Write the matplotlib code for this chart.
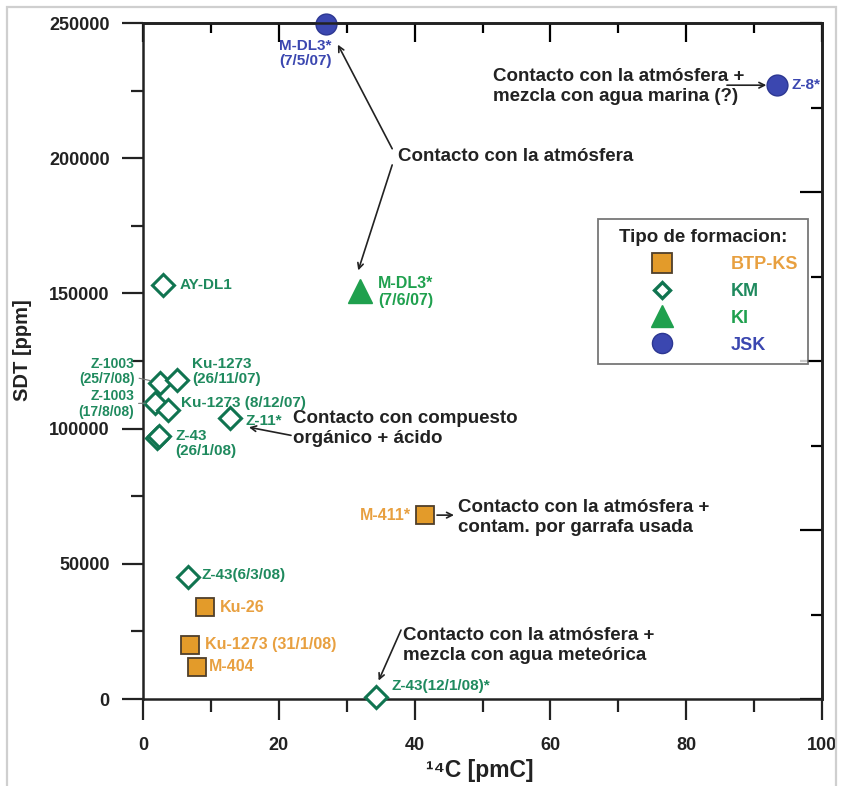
import matplotlib
matplotlib.use("Agg")
import matplotlib.pyplot as plt
from matplotlib.lines import Line2D
from matplotlib.patches import Rectangle
from matplotlib.ticker import MultipleLocator

plt.rcParams['font.family'] = ['Liberation Sans', 'DejaVu Sans']
plt.rcParams['font.weight'] = 'bold'

# --- data: 14C activity (pmC) vs total dissolved solids (ppm) ---
btp_names = ["M-411*", "Ku-26", "Ku-1273 (31/1/08)", "M-404"]
btp_c14 = [41.5, 9.1, 6.9, 7.9]
btp_sdt = [68000, 34000, 20000, 12000]

km_names = ["AY-DL1", "Z-1003\n(25/7/08)", "Ku-1273\n(26/11/07)", "Z-1003\n(17/8/08)",
            "Ku-1273 (8/12/07)", "Z-43\n(26/1/08)", "", "Z-11*", "Z-43(6/3/08)",
            "Z-43(12/1/08)*"]
km_c14 = [2.9, 2.5, 5.0, 1.8, 3.7, 2.1, 2.4, 12.8, 6.6, 34.3]
km_sdt = [153000, 117000, 118000, 109500, 107000, 96500, 97200, 104000, 45200, 700]

ki_names = ["M-DL3*\n(7/6/07)"]
ki_c14 = [32.0]
ki_sdt = [151000]

jsk_names = ["M-DL3*\n(7/5/07)", "Z-8*"]
jsk_c14 = [27.0, 93.4]
jsk_sdt = [249500, 227000]

legend_labels = ["BTP-KS", "KM", "KI", "JSK"]

# colours
ORANGE = '#e39b2a'
ORANGE_TXT = '#e8a040'
KM_EDGE = '#107450'
KM_TXT = '#1f8a5e'
KI_GREEN = '#1fa04e'
BLUE = '#3b47b0'
INK = '#222222'

# label offsets in points (dx, dy, ha, leader line)
btp_off = [(-10, 0, 'right', False), (11, 0, 'left', False),
           (11, 0, 'left', False), (9, 0, 'left', False)]
km_off = [(12, 0, 'left', False), (-18, 8, 'right', True), (11, 6, 'left', False),
          (-15, -1, 'right', True), (9, 5, 'left', False), (13, -4, 'left', False),
          (0, 0, 'left', False), (11, -2, 'left', False), (10, 1, 'left', False),
          (11, 8, 'left', False)]
ki_off = [(13, -1, 'left', False)]
jsk_off = [(-15, -21, 'center', False), (10, 0, 'left', False)]

fig = plt.figure(figsize=(8.42, 7.86), dpi=100)
ax = fig.add_axes([143 / 842, 87 / 786, 679 / 842, 676 / 786])

ax.plot(btp_c14, btp_sdt, 's', ms=13.5, mfc=ORANGE, mec='#4f3f2a', mew=1.3,
        clip_on=False, zorder=3)
ax.plot(km_c14, km_sdt, 'D', ms=11, mfc='white', mec=KM_EDGE, mew=2.2,
        clip_on=False, zorder=3)
ax.plot(ki_c14, ki_sdt, '^', ms=17, mfc=KI_GREEN, mec=KI_GREEN, mew=1,
        clip_on=False, zorder=3)
ax.plot(jsk_c14, jsk_sdt, 'o', ms=15, mfc=BLUE, mec='#2c3792', mew=1,
        clip_on=False, zorder=2)


def label_points(names, xs, ys, offsets, color, size=11.5):
    for name, x, y, (dx, dy, ha, leader) in zip(names, xs, ys, offsets):
        if not name:
            continue
        fs = 10 if leader else size
        kw = {}
        if leader:
            kw['arrowprops'] = dict(arrowstyle='-', color='#777777', lw=0.8,
                                    shrinkA=1, shrinkB=7)
        ax.annotate(name, (x, y), xytext=(dx, dy), textcoords='offset points',
                    ha=ha, va='center', color=color, fontsize=fs,
                    linespacing=1.15, annotation_clip=False, **kw)


label_points(btp_names, btp_c14, btp_sdt, btp_off, ORANGE_TXT)
label_points(km_names, km_c14, km_sdt, km_off, KM_TXT, size=11)
label_points(ki_names, ki_c14, ki_sdt, ki_off, KI_GREEN)
label_points(jsk_names, jsk_c14, jsk_sdt, jsk_off, BLUE, size=11)

# interpretation notes with arrows
arrow = dict(arrowstyle='->', color=INK, lw=1.2, shrinkA=0, shrinkB=0)
note_kw = dict(fontsize=13.5, color=INK, va='center', ha='left', linespacing=1.25)

ax.text(37.6, 200500, "Contacto con la atmósfera", **note_kw)
ax.annotate("", xy=(28.7, 242000), xytext=(36.7, 203500), arrowprops=arrow)
ax.annotate("", xy=(31.7, 158500), xytext=(36.7, 197500), arrowprops=arrow)

ax.text(51.6, 226500, "Contacto con la atmósfera +\nmezcla con agua marina (?)", **note_kw)
ax.annotate("", xy=(91.8, 227000), xytext=(86.0, 227000), arrowprops=arrow)

ax.text(22.1, 100000, "Contacto con compuesto\norgánico + ácido", **note_kw)
ax.annotate("", xy=(15.6, 100500), xytext=(21.8, 97500), arrowprops=arrow)

ax.text(46.4, 67000, "Contacto con la atmósfera +\ncontam. por garrafa usada", **note_kw)
ax.annotate("", xy=(45.8, 68000), xytext=(43.3, 68000), arrowprops=arrow)

ax.text(38.3, 19800, "Contacto con la atmósfera +\nmezcla con agua meteórica", **note_kw)
ax.annotate("", xy=(34.7, 6800), xytext=(38.0, 25500), arrowprops=arrow)

# axes, ticks
ax.set_xlim(0, 100)
ax.set_ylim(0, 250000)
ax.xaxis.set_major_locator(MultipleLocator(20))
ax.xaxis.set_minor_locator(MultipleLocator(10))
ax.yaxis.set_major_locator(MultipleLocator(50000))
ax.yaxis.set_minor_locator(MultipleLocator(25000))
ax.tick_params(which='major', direction='out', length=15, width=1.6,
               labelsize=13, colors=INK)
ax.tick_params(which='minor', direction='out', length=9, width=1.6, colors=INK)
ax.tick_params(axis='x', which='major', pad=12)
ax.tick_params(axis='y', which='major', pad=9)
for lab in ax.get_xticklabels() + ax.get_yticklabels():
    lab.set_fontweight('bold')
for sp in ax.spines.values():
    sp.set_linewidth(1.8)
    sp.set_color(INK)

top = ax.secondary_xaxis('top')
top.xaxis.set_major_locator(MultipleLocator(20))
top.xaxis.set_minor_locator(MultipleLocator(10))
top.tick_params(which='major', direction='in', length=14, width=1.6, labeltop=False)
top.tick_params(which='minor', direction='in', length=7, width=1.6)
top.spines['top'].set_linewidth(1.8)

right = ax.secondary_yaxis('right')
right.yaxis.set_major_locator(MultipleLocator(62500))
right.yaxis.set_minor_locator(MultipleLocator(31250))
right.tick_params(which='major', direction='in', length=16, width=1.6, labelright=False)
right.tick_params(which='minor', direction='in', length=8, width=1.6)
right.spines['right'].set_linewidth(1.8)

fig.text(23 / 842, 1 - 350 / 786, "SDT [ppm]", rotation=90, ha='center',
         va='center', fontsize=14.5, color=INK)
fig.text(480 / 842, 1 - 770 / 786, "¹⁴C [pmC]", ha='center', va='center',
         fontsize=16.5, color=INK)

# legend
handles = [
    Line2D([], [], ls='', marker='s', ms=14, mfc=ORANGE, mec='#4f3f2a', mew=1.3),
    Line2D([], [], ls='', marker='D', ms=8.5, mfc='white', mec=KM_EDGE, mew=2.4),
    Line2D([], [], ls='', marker='^', ms=16, mfc=KI_GREEN, mec=KI_GREEN),
    Line2D([], [], ls='', marker='o', ms=14.5, mfc=BLUE, mec='#2c3792'),
]
leg = ax.legend(handles, legend_labels, title="Tipo de formacion:",
                loc='upper left', bbox_to_anchor=(0.670, 0.710),
                fontsize=13, title_fontsize=13.5, frameon=True, fancybox=False,
                edgecolor='#555555', handlelength=6.0, handletextpad=0.8,
                labelspacing=0.55, borderpad=0.55, borderaxespad=0)
leg.get_frame().set_linewidth(1.3)
leg.get_title().set_fontweight('bold')
leg.get_title().set_color(INK)
for txt, c in zip(leg.get_texts(), [ORANGE_TXT, KM_TXT, KI_GREEN, BLUE]):
    txt.set_color(c)

# light frame around the whole figure
fig.add_artist(Rectangle((7 / 842, -0.01), 829 / 842, 1 - 7 / 786 + 0.01,
                         transform=fig.transFigure, fill=False,
                         edgecolor='#cfcfcf', lw=1.6))

fig.savefig("out.png", dpi=100)
